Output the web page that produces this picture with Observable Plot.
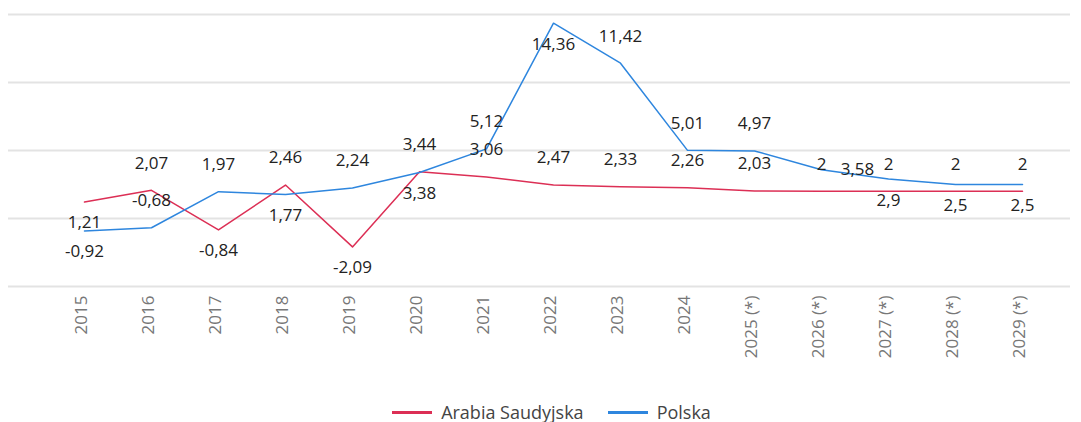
<!DOCTYPE html>
<html><head><meta charset="utf-8">
<script src="https://cdn.jsdelivr.net/npm/d3@7"></script>
<script src="https://cdn.jsdelivr.net/npm/@observablehq/plot@0.6"></script>
<style>
body{margin:0;background:#fff;font-family:"Open Sans",sans-serif;position:relative;width:1081px;height:422px;overflow:hidden;}
#chart svg{display:block;}
#legend{position:absolute;left:0;top:402px;width:1081px;display:flex;justify-content:center;align-items:center;height:20px;line-height:20px;padding-left:22px;box-sizing:border-box;font-size:18px;color:#444;}
.item{display:flex;align-items:center;margin:0 12px;}
.sw{display:inline-block;width:40px;height:3px;margin-right:9px;}
</style></head><body>
<div id="chart"></div><div id="legend"></div>
<script>
const years = ["2015","2016","2017","2018","2019","2020","2021","2022","2023","2024","2025 (*)","2026 (*)","2027 (*)","2028 (*)","2029 (*)"];
const saudi = [1.21, 2.07, -0.84, 2.46, -2.09, 3.44, 3.06, 2.47, 2.33, 2.26, 2.03, 2, 2, 2, 2];
const poland = [-0.92, -0.68, 1.97, 1.77, 2.24, 3.38, 5.12, 14.36, 11.42, 5.01, 4.97, 3.58, 2.9, 2.5, 2.5];
const saudiLabelSide = ["below","above","below","above","below","above","above","above","above","above","above","above","above","above","above"];
const polandLabelSide = ["below","above","above","below","above","below","above","below","above","above","above","right","below","below","below"];
const yGrid = [-5, 0, 5, 10, 15];
const seriesNames = ["Arabia Saudyjska", "Polska"];
const seriesColors = ["#dc2f55", "#2e86de"];

const rows = [];
years.forEach((y, i) => rows.push({year: y, value: saudi[i], series: seriesNames[0], side: saudiLabelSide[i]}));
years.forEach((y, i) => rows.push({year: y, value: poland[i], series: seriesNames[1], side: polandLabelSide[i]}));
const fmt = v => String(v).replace(".", ",");

const textOpts = {x: "year", y: "value", text: d => fmt(d.value), fill: "#222", fontSize: 17};
const chart = Plot.plot({
  width: 1081, height: 385,
  marginTop: 14, marginBottom: 99, marginLeft: 77, marginRight: 53,
  style: {fontFamily: "Open Sans, sans-serif", background: "#fff"},
  x: {type: "point", domain: years, padding: 0, axis: null},
  y: {domain: [-5, 15], axis: null},
  color: {domain: seriesNames, range: seriesColors},
  marks: [
    Plot.ruleY(yGrid, {stroke: "#e3e3e3", strokeWidth: 2, insetLeft: -69, insetRight: -42}),
    Plot.axisX({tickRotate: -90, tickSize: 0, tickPadding: 9, fill: "#777", fontSize: 17, label: null, dx: -3}),
    Plot.lineY(rows, {x: "year", y: "value", z: "series", stroke: "series", strokeWidth: 1.5}),
    Plot.text(rows.filter(d => d.side === "above"), {...textOpts, dy: -27}),
    Plot.text(rows.filter(d => d.side === "below"), {...textOpts, dy: 21}),
    Plot.text(rows.filter(d => d.side === "right"), {...textOpts, dx: 36})
  ]
});
document.getElementById("chart").append(chart);
const lg = document.getElementById("legend");
seriesNames.forEach((n, i) => {
  const it = document.createElement("div"); it.className = "item";
  const sw = document.createElement("span"); sw.className = "sw"; sw.style.background = seriesColors[i];
  it.append(sw, document.createTextNode(n));
  lg.append(it);
});
</script></body></html>
